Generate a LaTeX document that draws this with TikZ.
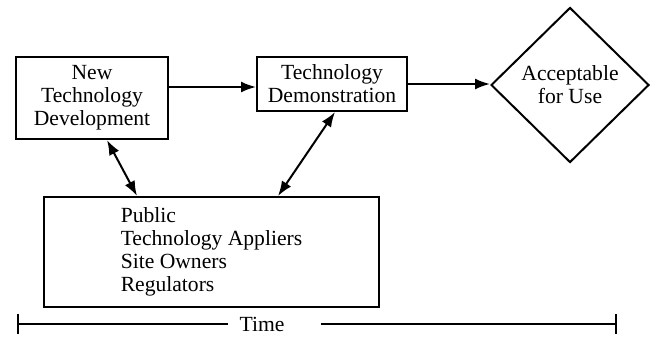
\documentclass[tikz,border=0pt]{standalone}
\usepackage{fontspec}
\setmainfont{LiberationSerif}[Extension=.ttf, UprightFont=*-Regular, BoldFont=*-Bold]
\usetikzlibrary{positioning, arrows.meta, calc, shapes.geometric}

\begin{document}
\begin{tikzpicture}[
		x=0.5pt, y=-0.5pt,
		>={Latex[length=7.5pt, width=5.5pt]},
		% Plain boxes of the flow
		stagebox/.style={
				rectangle, draw=black, line width=1pt, fill=white,
				font=\fontsize{10.8}{11.5}\selectfont, align=center, inner sep=2pt
			},
		% Decision at the end
		decision/.style={
				diamond, draw=black, line width=1pt, inner sep=0pt,
				minimum width=79pt, minimum height=77.5pt,
				font=\fontsize{10.8}{11.5}\selectfont, align=center
			},
		% Arrows
		flow/.style={->, line width=1pt, draw=black},
		talk/.style={<->, line width=1pt, draw=black}
	]

	\useasboundingbox (0,0) rectangle (651,337);

	% ==========================================
	% 1. TOP ROW
	% ==========================================
	\node[stagebox, minimum width=76pt, minimum height=41pt]
	(develop) at (92, 98) {New\\Technology\\Development};

	\node[stagebox, minimum width=75pt, minimum height=27pt]
	(demo) at (332, 84) {Technology\\Demonstration};

	\node[decision] (accept) at (570, 85) {Acceptable\\for Use};

	% ==========================================
	% 2. STAKEHOLDERS (BOTTOM)
	% ==========================================
	\node[stagebox, minimum width=167.5pt, minimum height=55pt]
	(people) at (211.5, 252) {%
		\begin{tabular}{@{}l@{}}
			Public\\
			Technology Appliers\\
			Site Owners\\
			Regulators
		\end{tabular}};

	% ==========================================
	% 3. ARROWS
	% ==========================================
	\draw[flow] ([yshift=5.5pt]develop.east) -- ([yshift=5.5pt]develop.east -| demo.west);
	\draw[flow] (demo.east) -- (demo.east -| accept.west);

	\draw[talk] ([xshift=7.5pt]develop.south) -- ([xshift=-37.25pt]people.north);
	\draw[talk] ([xshift=1.5pt]demo.south) -- ([xshift=33.25pt]people.north);

	% ==========================================
	% 4. TIME AXIS
	% ==========================================
	\node[font=\fontsize{10.8}{11.5}\selectfont, inner sep=0pt] (time) at (262, 324) {Time};
	\coordinate (tstart) at (18, 324);
	\coordinate (tend) at (616, 324);

	\draw[line width=1pt] ([yshift=5pt]tstart) -- ([yshift=-5pt]tstart);
	\draw[line width=1pt] ([yshift=5pt]tend) -- ([yshift=-5pt]tend);
	\draw[line width=1pt] (tstart) -- ([xshift=-5.5pt]time.west |- tstart);
	\draw[line width=1pt] ([xshift=18pt]time.east |- tend) -- (tend);

\end{tikzpicture}
\end{document}
